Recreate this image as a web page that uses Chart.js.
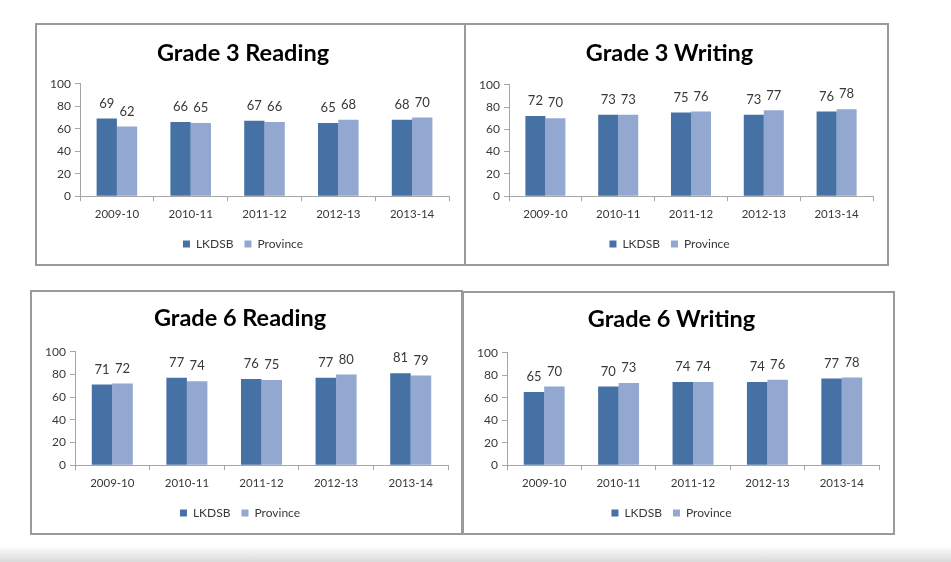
<!DOCTYPE html>
<html>
<head>
<meta charset="utf-8">
<script src="https://cdn.jsdelivr.net/npm/chart.js@4.4.0/dist/chart.umd.min.js"></script>
<style>
  html, body { margin: 0; padding: 0; background: #fff; }
  body { width: 951px; height: 562px; position: relative; overflow: hidden; font-family: Lato, sans-serif; }
  .panel { position: absolute; box-sizing: border-box; border: 2px solid #9a9a9a; background: #fff; }
  .panel canvas { position: absolute; left: 0; top: 0; }
  #band { position: absolute; left: 0; right: 0; top: 546px; height: 16px;
          background: linear-gradient(#ffffff, #d9d9d9); }
</style>
</head>
<body>
<div id="band"></div>
<div class="panel" style="left:35px;top:23px;width:431px;height:243px;"><canvas id="c1"></canvas></div>
<div class="panel" style="left:464px;top:23px;width:425px;height:243px;"><canvas id="c2"></canvas></div>
<div class="panel" style="left:30px;top:290px;width:433px;height:245px;"><canvas id="c3"></canvas></div>
<div class="panel" style="left:462px;top:291px;width:433px;height:244px;"><canvas id="c4"></canvas></div>
<script>
const categories = ["2009-10", "2010-11", "2011-12", "2012-13", "2013-14"];
const seriesNames = ["LKDSB", "Province"];
const yTicks = [0, 20, 40, 60, 80, 100];

const g3ReadingLKDSB = [69, 66, 67, 65, 68];
const g3ReadingProvince = [62, 65, 66, 68, 70];
const g3WritingLKDSB = [72, 73, 75, 73, 76];
const g3WritingProvince = [70, 73, 76, 77, 78];
const g6ReadingLKDSB = [71, 77, 76, 77, 81];
const g6ReadingProvince = [72, 74, 75, 80, 79];
const g6WritingLKDSB = [65, 70, 74, 74, 77];
const g6WritingProvince = [70, 73, 74, 76, 78];

const titles = ["Grade 3 Reading", "Grade 3 Writing", "Grade 6 Reading", "Grade 6 Writing"];

const COLORS = ["#4671a5", "#93a8d0"];
const FONT = "Lato, 'Open Sans', sans-serif";
const AXIS = "#a6a6a6";
const TEXT = "#383838";

const valueLabels = {
  id: "valueLabels",
  afterDatasetsDraw(chart) {
    const ctx = chart.ctx;
    ctx.save();
    ctx.font = "13px " + FONT;
    ctx.fillStyle = TEXT;
    ctx.textAlign = "center";
    ctx.textBaseline = "middle";
    chart.data.datasets.forEach((ds, i) => {
      const meta = chart.getDatasetMeta(i);
      meta.data.forEach((el, j) => {
        ctx.fillText(String(ds.data[j]), el.x, el.y - 15);
      });
    });
    ctx.restore();
  }
};

function makeChart(id, w, h, title, a, b, padRight, titleTop, titleBottom, padBottom) {
  const canvas = document.getElementById(id);
  canvas.style.width = w + "px";
  canvas.style.height = h + "px";
  return new Chart(canvas, {
    type: "bar",
    data: {
      labels: categories,
      datasets: [
        { label: seriesNames[0], data: a, backgroundColor: COLORS[0], borderWidth: 0 },
        { label: seriesNames[1], data: b, backgroundColor: COLORS[1], borderWidth: 0 }
      ]
    },
    options: {
      responsive: false,
      animation: false,
      devicePixelRatio: 1,
      datasets: { bar: { categoryPercentage: 0.55, barPercentage: 1.0 } },
      layout: { padding: { left: 0, right: padRight, top: 0, bottom: padBottom } },
      plugins: {
        title: {
          display: true, text: title, color: "#000",
          font: { family: FONT, size: 23.5, weight: "bold" },
          padding: { top: titleTop, bottom: titleBottom }
        },
        legend: {
          position: "bottom",
          labels: {
            color: TEXT, boxWidth: 7, boxHeight: 7, padding: 11,
            font: { family: FONT, size: 12 }
          }
        },
        tooltip: { enabled: false }
      },
      scales: {
        x: {
          grid: { display: true, drawOnChartArea: false, drawTicks: true, tickLength: 5, color: AXIS, offset: true },
          border: { color: AXIS },
          ticks: { color: TEXT, font: { family: FONT, size: 11.5 }, padding: 6, maxRotation: 0 }
        },
        y: {
          min: 0, max: 100,
          afterBuildTicks(scale) { scale.ticks = yTicks.map(v => ({ value: v })); },
          afterFit(scale) { scale.width = 43; },
          grid: { display: true, drawOnChartArea: false, drawTicks: true, tickLength: 5, color: AXIS },
          border: { color: AXIS },
          ticks: { color: TEXT, font: { family: FONT, size: 12 }, padding: 4 }
        }
      }
    },
    plugins: [valueLabels]
  });
}

makeChart("c1", 427, 239, titles[0], g3ReadingLKDSB, g3ReadingProvince, 15, 14, 16.5, 4);
makeChart("c2", 421, 239, titles[1], g3WritingLKDSB, g3WritingProvince, 14, 14, 17.5, 4);
makeChart("c3", 429, 241, titles[2], g6ReadingLKDSB, g6ReadingProvince, 13, 12.5, 19, 4);
makeChart("c4", 429, 240, titles[3], g6WritingLKDSB, g6WritingProvince, 14, 12.5, 19, 4);
</script>
</body>
</html>
